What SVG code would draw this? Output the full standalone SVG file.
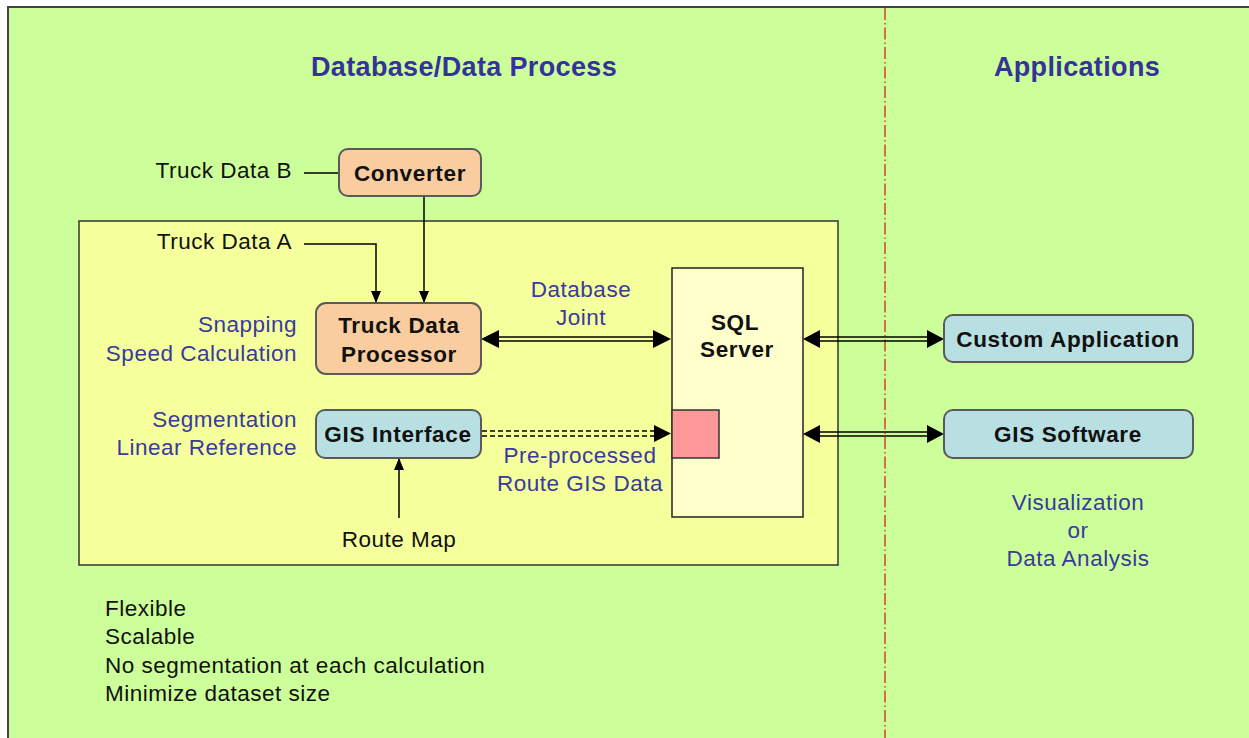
<svg xmlns="http://www.w3.org/2000/svg" width="1249" height="738" viewBox="0 0 1249 738">
<defs>
<style>
text{font-family:"Liberation Sans",Arial,sans-serif;}
.t{font-size:22.5px;fill:#111;letter-spacing:0.5px;}
.b{font-size:22.5px;font-weight:bold;fill:#111;text-anchor:middle;letter-spacing:0.65px;}
.bl{font-size:22.5px;fill:#3A3A9E;letter-spacing:0.5px;}
.h{font-size:27px;font-weight:bold;fill:#333399;text-anchor:middle;letter-spacing:0.35px;}
.peach{fill:#FACDA0;stroke:#5A5A5A;stroke-width:2;}
.blue{fill:#B8DFE2;stroke:#5A5A5A;stroke-width:2;}
.ln{stroke:#000;stroke-width:1.5;fill:none;}
.ah{fill:#000;}
</style>
<marker id="arr" viewBox="0 0 12 10" refX="12" refY="5" markerWidth="12" markerHeight="10" markerUnits="userSpaceOnUse" orient="auto">
<path d="M0,0 L12,5 L0,10 Z" fill="#000"/>
</marker>
</defs>
<rect x="0" y="0" width="1249" height="738" fill="#FFFFFF"/>
<rect x="8" y="7" width="1260" height="760" fill="#CCFF99" stroke="#444" stroke-width="2"/>
<line x1="885" y1="8" x2="885" y2="738" stroke="#E02020" stroke-width="1.3" stroke-dasharray="12,3,1.5,3"/>
<text class="h" x="464" y="76">Database/Data Process</text>
<text class="h" x="1077" y="76">Applications</text>

<g id="inner-box">
<rect x="79" y="221" width="759" height="344" fill="#F5FF9C" stroke="#333" stroke-width="1.5"/>
</g>

<g id="labels">
<text class="t" x="292" y="178" text-anchor="end">Truck Data B</text>
<text class="t" x="292" y="249" text-anchor="end">Truck Data A</text>
<text class="bl" x="297" y="332" text-anchor="end">Snapping</text>
<text class="bl" x="297" y="361" text-anchor="end">Speed Calculation</text>
<text class="bl" x="297" y="427" text-anchor="end">Segmentation</text>
<text class="bl" x="297" y="455" text-anchor="end">Linear Reference</text>
<text class="bl" x="581" y="297" text-anchor="middle">Database</text>
<text class="bl" x="581" y="325" text-anchor="middle">Joint</text>
<text class="bl" x="580" y="463" text-anchor="middle">Pre-processed</text>
<text class="bl" x="580" y="491" text-anchor="middle">Route GIS Data</text>
<text class="t" x="399" y="547" text-anchor="middle">Route Map</text>
<text class="bl" x="1078" y="510" text-anchor="middle">Visualization</text>
<text class="bl" x="1078" y="538" text-anchor="middle">or</text>
<text class="bl" x="1078" y="566" text-anchor="middle">Data Analysis</text>
<text class="t" x="105" y="616">Flexible</text>
<text class="t" x="105" y="644">Scalable</text>
<text class="t" x="105" y="673">No segmentation at each calculation</text>
<text class="t" x="105" y="701">Minimize dataset size</text>
</g>

<g id="connectors">
<line class="ln" x1="304" y1="173" x2="339" y2="173"/>
<line class="ln" x1="424" y1="196" x2="424" y2="303" marker-end="url(#arr)"/>
<polyline class="ln" points="304,244 376,244 376,303" marker-end="url(#arr)"/>
<line class="ln" x1="399" y1="518" x2="399" y2="458" marker-end="url(#arr)"/>
<line class="ln" x1="498" y1="337" x2="655" y2="337"/>
<line class="ln" x1="498" y1="341" x2="655" y2="341"/>
<polygon class="ah" points="481,339 499,330 499,348"/>
<polygon class="ah" points="671,339 653,330 653,348"/>
<line class="ln" x1="482" y1="431" x2="656" y2="431" stroke-dasharray="5,3"/>
<line class="ln" x1="482" y1="436" x2="656" y2="436" stroke-dasharray="5,3"/>
<polygon class="ah" points="671,433.5 654,425 654,442"/>
<line class="ln" x1="819" y1="337" x2="928" y2="337"/>
<line class="ln" x1="819" y1="341" x2="928" y2="341"/>
<polygon class="ah" points="803,339 820,330 820,348"/>
<polygon class="ah" points="944,339 927,330 927,348"/>
<line class="ln" x1="819" y1="432" x2="928" y2="432"/>
<line class="ln" x1="819" y1="436" x2="928" y2="436"/>
<polygon class="ah" points="803,434 820,425 820,443"/>
<polygon class="ah" points="944,434 927,425 927,443"/>
</g>

<g id="converter">
<rect class="peach" x="339" y="149" width="142" height="47" rx="9"/>
<text class="b" x="410" y="181">Converter</text>
</g>
<g id="truck-data-processor">
<rect class="peach" x="316" y="303" width="165" height="71" rx="10"/>
<text class="b" x="399" y="333">Truck Data</text>
<text class="b" x="399" y="362">Processor</text>
</g>
<g id="gis-interface">
<rect class="blue" x="316" y="410" width="165" height="48" rx="9"/>
<text class="b" x="398" y="442">GIS Interface</text>
</g>
<g id="sql-server">
<rect x="672" y="268" width="131" height="249" fill="#FFFFCC" stroke="#222" stroke-width="1.5"/>
<text class="b" x="735" y="330">SQL</text>
<text class="b" x="737" y="357">Server</text>
<rect x="672" y="410" width="47" height="48" fill="#FF9999" stroke="#333" stroke-width="1.5"/>
</g>
<g id="custom-application">
<rect class="blue" x="944" y="315" width="249" height="47" rx="9"/>
<text class="b" x="1068" y="347">Custom Application</text>
</g>
<g id="gis-software">
<rect class="blue" x="944" y="410" width="249" height="48" rx="9"/>
<text class="b" x="1068" y="442">GIS Software</text>
</g>
</svg>
